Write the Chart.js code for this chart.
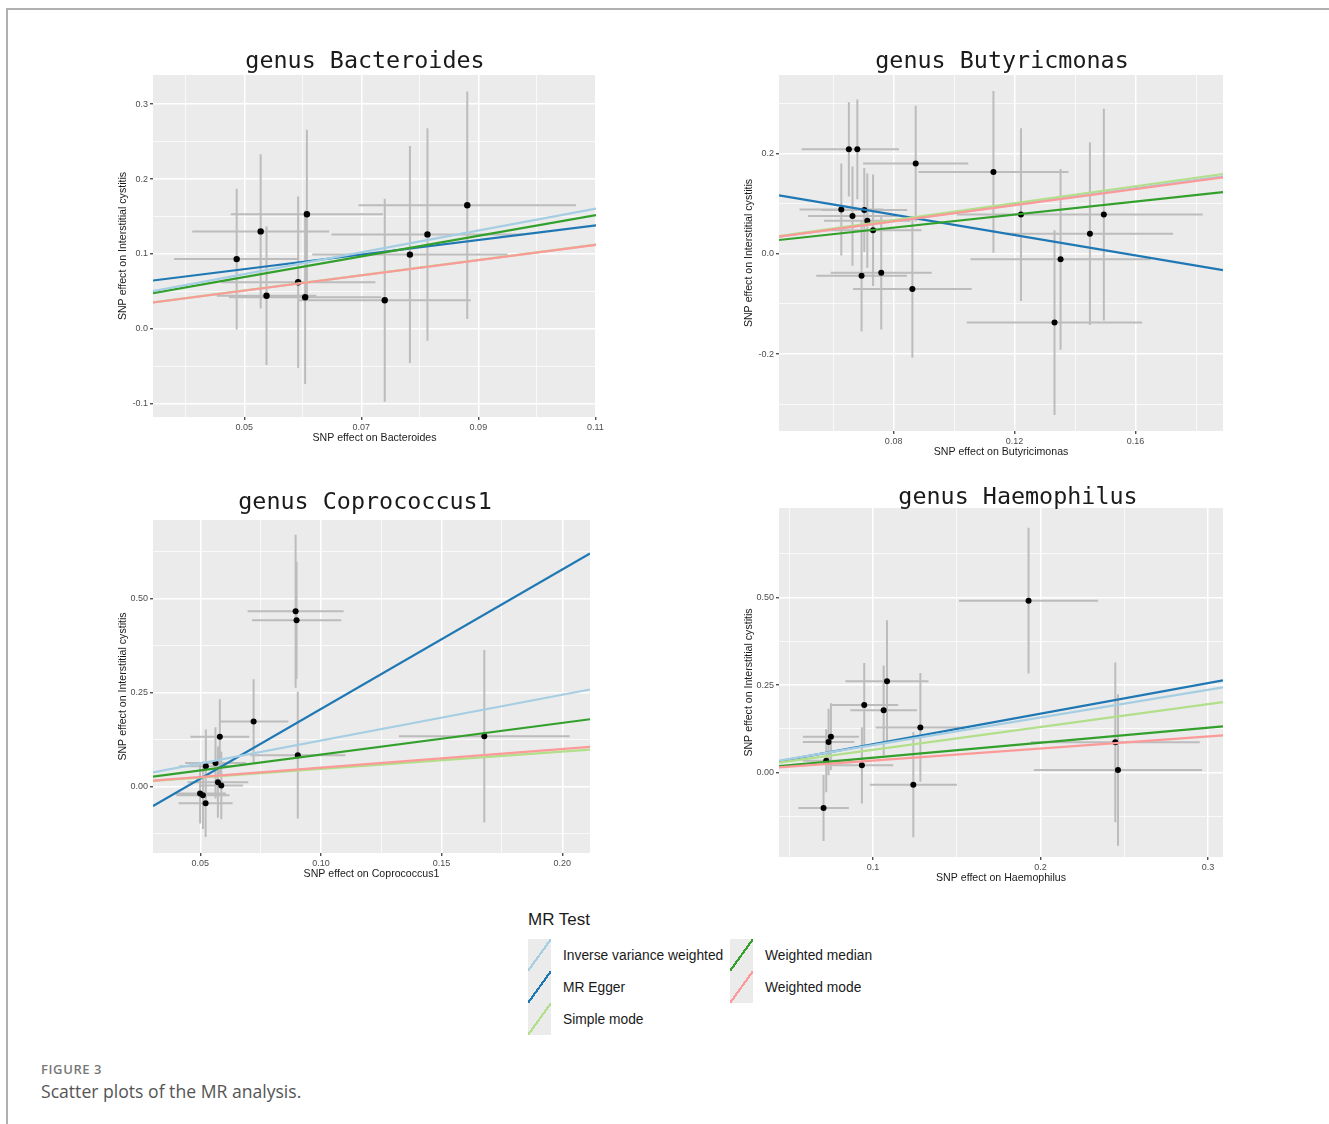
<!DOCTYPE html>
<html>
<head>
<meta charset="utf-8">
<script src="https://cdn.jsdelivr.net/npm/chart.js@4.4.1/dist/chart.umd.min.js"></script>
<style>
  html, body { margin: 0; padding: 0; background: #fff; }
  body { width: 1329px; height: 1124px; position: relative; overflow: hidden; font-family: "Liberation Sans", Arial, sans-serif; }
  .frame { position: absolute; left: 6px; top: 8px; right: -2px; bottom: -2px; border-top: 2px solid #b0b0b0; border-left: 2px solid #b0b0b0; }
  canvas { position: absolute; }
  .legend-title { position: absolute; left: 528px; top: 910px; font-size: 17px; color: #1a1a1a; }
  .legend-item { position: absolute; height: 32px; display: flex; align-items: center; font-size: 13.8px; color: #1a1a1a; }
  .legend-key { width: 23px; height: 32px; margin-right: 12px; }
  .fig-label { position: absolute; left: 41px; top: 1060px; font-family: "Open Sans", sans-serif; font-size: 13px; font-weight: 600; letter-spacing: 0.6px; color: #777; }
  .fig-caption { position: absolute; left: 41px; top: 1079px; font-family: "Open Sans", sans-serif; font-size: 17.6px; color: #555; }
</style>
</head>
<body>
<div class="frame"></div>
<canvas id="bact"></canvas>
<canvas id="buty"></canvas>
<canvas id="copro"></canvas>
<canvas id="haemo"></canvas>
<div class="legend-title">MR Test</div>
<div id="legend"></div>
<div class="fig-label">FIGURE 3</div>
<div class="fig-caption">Scatter plots of the MR analysis.</div>
<script>
// MR methods, legend order
const methodNames = ['Inverse variance weighted', 'MR Egger', 'Simple mode', 'Weighted median', 'Weighted mode'];
const methodColors = ['#a6cee3', '#1f78b4', '#b2df8a', '#33a02c', '#fb9a99'];
const methodOrder = [3, 5, 2, 4, 1]; // lower = drawn on top (Egger first, Weighted mode last)

// genus Bacteroides
const bactX = [0.0487, 0.0528, 0.0538, 0.0592, 0.0607, 0.0604, 0.0740, 0.0783, 0.0813, 0.0881];
const bactY = [0.093, 0.130, 0.044, 0.062, 0.153, 0.042, 0.038, 0.099, 0.126, 0.165];
const bactXErr = [0.0107, 0.0117, 0.0085, 0.0132, 0.0130, 0.0130, 0.0147, 0.0167, 0.0164, 0.0186];
const bactYErr = [0.094, 0.103, 0.0925, 0.1145, 0.113, 0.116, 0.1355, 0.145, 0.142, 0.152];
const bactSlope = [1.457, 0.974, 1.02, 1.378, 1.018];
const bactIntercept = [0, 0.0309, 0, 0, 0];
const bactXTicks = [0.05, 0.07, 0.09, 0.11];
const bactXLabels = ['0.05', '0.07', '0.09', '0.11'];
const bactXMinor = [0.04, 0.06, 0.08, 0.10];
const bactYTicks = [-0.1, 0, 0.1, 0.2, 0.3];
const bactYLabels = ['-0.1', '0.0', '0.1', '0.2', '0.3'];
const bactYMinor = [-0.05, 0.05, 0.15, 0.25];

// genus Butyricimonas
const butyX = [0.0652, 0.0680, 0.0873, 0.1130, 0.0627, 0.0664, 0.0703, 0.0713, 0.0732, 0.0694, 0.0759, 0.0862, 0.1221, 0.1495, 0.1449, 0.1352, 0.1332];
const butyY = [0.208, 0.208, 0.180, 0.163, 0.088, 0.075, 0.087, 0.066, 0.047, -0.044, -0.038, -0.070, 0.078, 0.078, 0.040, -0.011, -0.137];
const butyXErr = [0.0156, 0.0138, 0.0174, 0.0248, 0.0138, 0.0147, 0.0142, 0.0143, 0.0160, 0.0150, 0.0167, 0.0196, 0.0212, 0.0327, 0.0275, 0.0298, 0.0290];
const butyYErr = [0.094, 0.0993, 0.115, 0.161, 0.0917, 0.0987, 0.0837, 0.094, 0.111, 0.111, 0.113, 0.137, 0.172, 0.211, 0.182, 0.180, 0.184];
const butySlope = [0.815, -1.014, 0.841, 0.651, 0.806];
const butyIntercept = [0, 0.159, 0, 0, 0];
const butyXTicks = [0.08, 0.12, 0.16];
const butyXLabels = ['0.08', '0.12', '0.16'];
const butyXMinor = [0.06, 0.10, 0.14, 0.18];
const butyYTicks = [-0.2, 0, 0.2];
const butyYLabels = ['-0.2', '0.0', '0.2'];
const butyYMinor = [-0.3, -0.1, 0.1, 0.3];

// genus Coprococcus1
const coproX = [0.0895, 0.0899, 0.0721, 0.0581, 0.0523, 0.0563, 0.0573, 0.0587, 0.0499, 0.0511, 0.0522, 0.0904, 0.1677];
const coproY = [0.467, 0.443, 0.1726, 0.1317, 0.0534, 0.0623, 0.0107, 0.0018, -0.0196, -0.024, -0.0454, 0.0827, 0.1335];
const coproXErr = [0.0199, 0.0185, 0.0144, 0.0122, 0.0110, 0.0126, 0.0126, 0.0090, 0.0107, 0.0110, 0.0112, 0.0197, 0.0354];
const coproYErr = [0.204, 0.156, 0.1125, 0.100, 0.098, 0.095, 0.095, 0.090, 0.080, 0.090, 0.090, 0.169, 0.230];
const coproSlope = [1.22, 3.719, 0.463, 0.845, 0.496];
const coproIntercept = [0, -0.1656, 0, 0, 0];
const coproXTicks = [0.05, 0.10, 0.15, 0.20];
const coproXLabels = ['0.05', '0.10', '0.15', '0.20'];
const coproXMinor = [0.075, 0.125, 0.175];
const coproYTicks = [0, 0.25, 0.5];
const coproYLabels = ['0.00', '0.25', '0.50'];
const coproYMinor = [-0.125, 0.125, 0.375, 0.625];

// genus Haemophilus
const haemoX = [0.1929, 0.1084, 0.0948, 0.1064, 0.1283, 0.0749, 0.0735, 0.0721, 0.0934, 0.1241, 0.0705, 0.2447, 0.2463];
const haemoY = [0.4905, 0.2605, 0.193, 0.1778, 0.129, 0.1027, 0.0875, 0.0342, 0.0209, -0.0342, -0.1008, 0.0865, 0.0076];
const haemoXErr = [0.0415, 0.0248, 0.0203, 0.0199, 0.0267, 0.0167, 0.0154, 0.0140, 0.0187, 0.0260, 0.0151, 0.0504, 0.0502];
const haemoYErr = [0.2077, 0.174, 0.120, 0.128, 0.155, 0.095, 0.095, 0.090, 0.109, 0.150, 0.094, 0.228, 0.216];
const haemoSlope = [0.788, 0.8714, 0.652, 0.428, 0.345];
const haemoIntercept = [0, -0.006, 0, 0, 0];
const haemoXTicks = [0.1, 0.2, 0.3];
const haemoXLabels = ['0.1', '0.2', '0.3'];
const haemoXMinor = [0.05, 0.15, 0.25];
const haemoYTicks = [0, 0.25, 0.5];
const haemoYLabels = ['0.00', '0.25', '0.50'];
const haemoYMinor = [-0.125, 0.125, 0.375, 0.625];

const yTitle = 'SNP effect on Interstitial cystitis';

const panelBackground = {
  id: 'panelBackground',
  beforeDraw(chart) {
    const { ctx, chartArea: a } = chart;
    ctx.save();
    ctx.fillStyle = '#ebebeb';
    ctx.fillRect(a.left, a.top, a.right - a.left, a.bottom - a.top);
    ctx.restore();
  },
};

function makeAxis(min, max, major, labels, minor, title, isX) {
  return {
    type: 'linear',
    position: isX ? 'bottom' : 'left',
    min,
    max,
    afterBuildTicks: (scale) => {
      scale.ticks = major.map((v) => ({ value: v }))
        .concat(minor.map((v) => ({ value: v, minor: true })))
        .sort((a, b) => a.value - b.value);
    },
    afterFit: (scale) => {
      if (isX) scale.height = 33;
      else scale.width = 43;
    },
    ticks: {
      autoSkip: false,
      maxRotation: 0,
      padding: 2,
      color: '#4d4d4d',
      font: { family: 'Liberation Sans', size: 9 },
      callback: (value) => {
        const k = major.indexOf(value);
        return k >= 0 ? labels[k] : '';
      },
    },
    grid: {
      color: '#ffffff',
      lineWidth: (ctx) => (ctx.tick && ctx.tick.minor ? 0.7 : 1.5),
      drawTicks: true,
      tickLength: 3,
      tickWidth: 1.2,
      tickColor: (ctx) => (ctx.tick && ctx.tick.minor ? 'rgba(0,0,0,0)' : '#333333'),
    },
    border: { display: false },
    title: {
      display: true,
      text: title,
      color: '#1a1a1a',
      font: { family: 'Liberation Sans', size: 10.6, lineHeight: 1.2 },
      padding: isX ? { top: 0, bottom: 5.4 } : { top: 6.4, bottom: 0 },
    },
  };
}

// empty axis on the right, only to reserve space so the title stays centred on the canvas
function spacerAxis(width) {
  return {
    type: 'linear',
    position: 'right',
    display: true,
    grid: { display: false, drawTicks: false },
    ticks: { display: false },
    border: { display: false },
    afterFit: (scale) => { scale.width = width; },
  };
}

function drawPanel(id, p) {
  const canvas = document.getElementById(id);
  canvas.width = p.box[2];
  canvas.height = p.box[3];
  canvas.style.left = p.box[0] + 'px';
  canvas.style.top = p.box[1] + 'px';

  const errorBars = [];
  p.x.forEach((x, i) => {
    const y = p.y[i];
    errorBars.push({ x: x - p.xErr[i], y }, { x: x + p.xErr[i], y }, { x, y: null });
    errorBars.push({ x, y: y - p.yErr[i] }, { x, y: y + p.yErr[i] }, { x, y: null });
  });

  const fits = methodNames.map((name, m) => ({
    type: 'line',
    label: name,
    data: [p.xRange[0], p.xRange[1]].map((x) => ({ x, y: p.intercept[m] + p.slope[m] * x })),
    borderColor: methodColors[m],
    borderWidth: 2.2,
    pointRadius: 0,
    order: methodOrder[m],
  }));

  new Chart(canvas, {
    type: 'scatter',
    data: {
      datasets: [
        {
          type: 'line',
          label: 'se',
          data: errorBars,
          borderColor: '#bcbcbc',
          borderWidth: 2,
          pointRadius: 0,
          spanGaps: false,
          order: 20,
        },
        {
          type: 'scatter',
          label: 'SNP',
          data: p.x.map((x, i) => ({ x, y: p.y[i] })),
          backgroundColor: '#000000',
          borderWidth: 0,
          pointRadius: p.dot,
          order: 10,
        },
        ...fits,
      ],
    },
    options: {
      responsive: false,
      animation: false,
      devicePixelRatio: 1,
      events: [],
      layout: { padding: 0 },
      scales: {
        x: makeAxis(p.xRange[0], p.xRange[1], p.xTicks, p.xLabels, p.xMinor, p.xTitle, true),
        y: makeAxis(p.yRange[0], p.yRange[1], p.yTicks, p.yLabels, p.yMinor, yTitle, false),
        spacer: spacerAxis(p.padRight),
      },
      plugins: {
        legend: { display: false },
        tooltip: { enabled: false },
        title: {
          display: true,
          text: p.title,
          color: '#1a1a1a',
          font: { family: 'DejaVu Sans Mono', size: 23.4, weight: 'normal', lineHeight: 0.8 },
          padding: { top: p.titlePad[0], bottom: p.titlePad[1] },
        },
      },
    },
    plugins: [panelBackground],
  });
}

drawPanel('bact', {
  box: [110, 40, 510, 410], padRight: 24, titlePad: [12.6, 3.7], dot: 3.2,
  title: 'genus Bacteroides', xTitle: 'SNP effect on Bacteroides',
  x: bactX, y: bactY, xErr: bactXErr, yErr: bactYErr, slope: bactSlope, intercept: bactIntercept,
  xRange: [0.0344, 0.1101], yRange: [-0.118, 0.339],
  xTicks: bactXTicks, xLabels: bactXLabels, xMinor: bactXMinor,
  yTicks: bactYTicks, yLabels: bactYLabels, yMinor: bactYMinor,
});

drawPanel('buty', {
  box: [736, 40, 532, 424], padRight: 45, titlePad: [12.6, 3.7], dot: 3,
  title: 'genus Butyricmonas', xTitle: 'SNP effect on Butyricimonas',
  x: butyX, y: butyY, xErr: butyXErr, yErr: butyYErr, slope: butySlope, intercept: butyIntercept,
  xRange: [0.0421, 0.1889], yRange: [-0.353, 0.356],
  xTicks: butyXTicks, xLabels: butyXLabels, xMinor: butyXMinor,
  yTicks: butyYTicks, yLabels: butyYLabels, yMinor: butyYMinor,
});

drawPanel('copro', {
  box: [110, 485, 510, 401], padRight: 30, titlePad: [8.6, 7.7], dot: 3,
  title: 'genus Coprococcus1', xTitle: 'SNP effect on Coprococcus1',
  x: coproX, y: coproY, xErr: coproXErr, yErr: coproYErr, slope: coproSlope, intercept: coproIntercept,
  xRange: [0.0304, 0.2115], yRange: [-0.178, 0.71],
  xTicks: coproXTicks, xLabels: coproXLabels, xMinor: coproXMinor,
  yTicks: coproYTicks, yLabels: coproYLabels, yMinor: coproYMinor,
});

drawPanel('haemo', {
  box: [736, 480, 564, 410], padRight: 77, titlePad: [8.6, 0.7], dot: 3,
  title: 'genus Haemophilus', xTitle: 'SNP effect on Haemophilus',
  x: haemoX, y: haemoY, xErr: haemoXErr, yErr: haemoYErr, slope: haemoSlope, intercept: haemoIntercept,
  xRange: [0.0439, 0.309], yRange: [-0.2405, 0.7548],
  xTicks: haemoXTicks, xLabels: haemoXLabels, xMinor: haemoXMinor,
  yTicks: haemoYTicks, yLabels: haemoYLabels, yMinor: haemoYMinor,
});

// legend: two columns, keys with a diagonal line like ggplot's abline key
const legendSlots = [[528, 939], [528, 971], [528, 1003], [730, 939], [730, 971]];
const legend = document.getElementById('legend');
methodNames.forEach((name, m) => {
  const item = document.createElement('div');
  item.className = 'legend-item';
  item.style.left = legendSlots[m][0] + 'px';
  item.style.top = legendSlots[m][1] + 'px';
  const key = document.createElement('div');
  key.className = 'legend-key';
  const c = methodColors[m];
  key.style.background = `linear-gradient(to bottom right, #ebebeb calc(50% - 1.1px), ${c} calc(50% - 1.1px), ${c} calc(50% + 1.1px), #ebebeb calc(50% + 1.1px))`;
  const label = document.createElement('span');
  label.textContent = name;
  item.appendChild(key);
  item.appendChild(label);
  legend.appendChild(item);
});
</script>
</body>
</html>
